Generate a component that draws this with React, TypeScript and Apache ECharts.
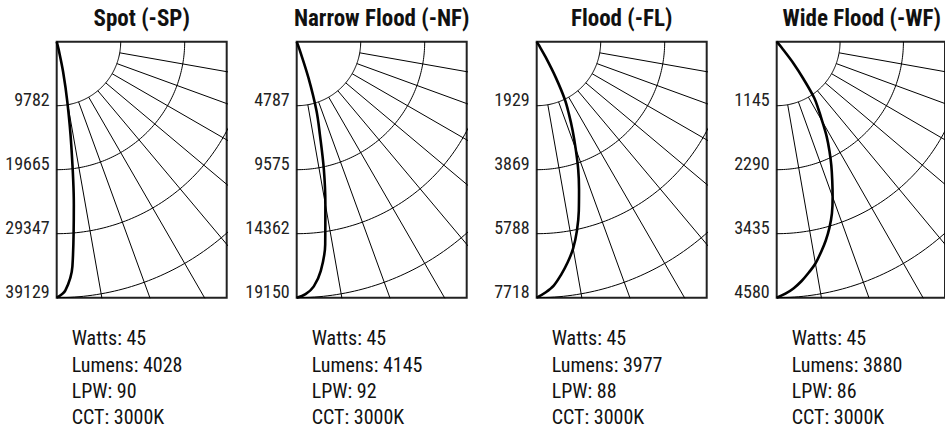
import React, { useEffect, useRef } from "react";
import * as echarts from "echarts";

// Vertical angles (degrees from nadir) at which the candela values are read
const ANGLES = [0, 2, 4, 6, 8, 10, 12, 14, 16, 18, 20, 22, 24, 26, 28, 30, 32, 34, 36, 38, 40, 42];

// Candela values per optic
const SP_CD = [39129, 38030, 34430, 25040, 16040, 9390, 4700, 1170, 195, 0];
const NF_CD = [19150, 18900, 18345, 17235, 15320, 12350, 9770, 7180, 5360, 2870, 575, 0];
const FL_CD = [7718, 7565, 7370, 7060, 6715, 6330, 5830, 5250, 4630, 4050, 3435, 2895, 2390, 1930, 1235, 540, 115, 0];
const WF_CD = [4580, 4510, 4420, 4305, 4170, 4030, 3850, 3665, 3460, 3230, 2955, 2680, 2427, 2175, 1924, 1649, 1420, 1214, 824, 504, 137, 0];

// Axis maxima and tick labels
const MAX_CD = [39129, 19150, 7718, 4580];
const SP_TICKS = ["9782", "19665", "29347", "39129"];
const NF_TICKS = ["4787", "9575", "14362", "19150"];
const FL_TICKS = ["1929", "3869", "5788", "7718"];
const WF_TICKS = ["1145", "2290", "3435", "4580"];

const TITLES = ["Spot (-SP)", "Narrow Flood (-NF)", "Flood (-FL)", "Wide Flood (-WF)"];
const WATTS = [45, 45, 45, 45];
const LUMENS = [4028, 4145, 3977, 3880];
const LPW = [90, 92, 88, 86];
const CCT = ["3000K", "3000K", "3000K", "3000K"];

const CD = [SP_CD, NF_CD, FL_CD, WF_CD];
const TICKS = [SP_TICKS, NF_TICKS, FL_TICKS, WF_TICKS];

const FONT = "'Roboto Condensed', 'DejaVu Sans Condensed', sans-serif";
const GRID_LEFT0 = 56.7;
const GRID_STEP = 240;
const GRID_TOP = 41.7;
const GRID_W = 170;
const GRID_H = 256;
const RAD = Math.PI / 180;

function polarPoint(r: number, deg: number): [number, number] {
  return [r * Math.sin(deg * RAD), r * Math.cos(deg * RAD)];
}

export default function App() {
  const ref = useRef<HTMLDivElement>(null);
  useEffect(() => {
    const chart = echarts.init(ref.current!, null, { renderer: "svg" });
    const grids: any[] = [];
    const xAxes: any[] = [];
    const yAxes: any[] = [];
    const series: any[] = [];
    const graphics: any[] = [];

    MAX_CD.forEach((max, i) => {
      const left = GRID_LEFT0 + GRID_STEP * i;
      const step = max / 4;
      grids.push({
        left,
        top: GRID_TOP,
        width: GRID_W,
        height: GRID_H,
        show: true,
        borderWidth: 2,
        borderColor: "#222",
        backgroundColor: "transparent",
      });
      xAxes.push({ type: "value", gridIndex: i, min: 0, max: (max * GRID_W) / GRID_H, show: false });
      yAxes.push({
        type: "value",
        gridIndex: i,
        min: 0,
        max,
        interval: step,
        inverse: true,
        axisLine: { show: false },
        axisTick: { show: false },
        splitLine: { show: false },
        axisLabel: {
          margin: 7,
          fontFamily: FONT,
          fontSize: 18,
          color: "#222",
          verticalAlign: "bottom",
          lineHeight: 13,
          formatter: (v: number) => {
            const k = Math.round(v / step);
            return k >= 1 ? TICKS[i][k - 1] : "";
          },
        },
      });

      const gridLine = { color: "#000", width: 1 };
      // concentric arcs at each tick
      for (let k = 1; k <= 4; k++) {
        const r = step * k;
        const data: [number, number][] = [];
        for (let a = 0; a <= 90; a += 1) data.push(polarPoint(r, a));
        series.push({
          type: "line",
          xAxisIndex: i,
          yAxisIndex: i,
          data,
          showSymbol: false,
          silent: true,
          clip: true,
          lineStyle: gridLine,
          z: 1,
        });
      }
      // radial lines every 10 degrees, from the first arc outwards
      for (let a = 10; a <= 80; a += 10) {
        series.push({
          type: "line",
          xAxisIndex: i,
          yAxisIndex: i,
          data: [polarPoint(step, a), polarPoint(max * 2, a)],
          showSymbol: false,
          silent: true,
          clip: true,
          lineStyle: gridLine,
          z: 1,
        });
      }
      // candela curve
      const cd = CD[i];
      series.push({
        type: "line",
        xAxisIndex: i,
        yAxisIndex: i,
        data: cd.map((v, j) => polarPoint(v, ANGLES[j])),
        showSymbol: false,
        silent: true,
        smooth: 0.35,
        clip: false,
        lineStyle: { color: "#000", width: 2.6 },
        z: 3,
      });

      graphics.push({
        type: "text",
        x: left + GRID_W / 2,
        y: 18,
        style: {
          text: TITLES[i],
          fontFamily: FONT,
          fontWeight: "bold",
          fontSize: 23,
          fill: "#111",
          textAlign: "center",
          textVerticalAlign: "middle",
        },
      });
      graphics.push({
        type: "text",
        x: left + 15,
        y: 325.2,
        style: {
          text: [`Watts: ${WATTS[i]}`, `Lumens: ${LUMENS[i]}`, `LPW: ${LPW[i]}`, `CCT: ${CCT[i]}`].join("\n"),
          fontFamily: FONT,
          fontSize: 20,
          lineHeight: 26.3,
          fill: "#111",
          textAlign: "left",
          textVerticalAlign: "top",
        },
      });
    });

    chart.setOption({
      animation: false,
      backgroundColor: "#fff",
      grid: grids,
      xAxis: xAxes,
      yAxis: yAxes,
      series,
      graphic: graphics,
    });
    return () => chart.dispose();
  }, []);
  return <div ref={ref} style={{ position: "fixed", left: 0, top: 0, width: 945, height: 434 }} />;
}
